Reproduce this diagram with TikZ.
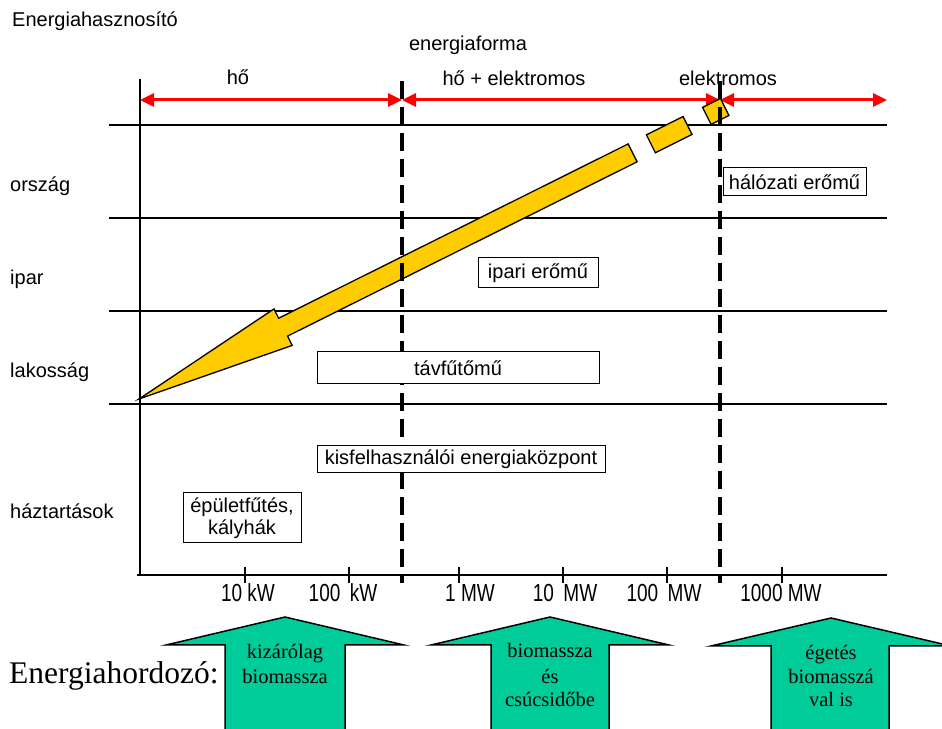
\documentclass[tikz,border=0pt]{standalone}
\usepackage{fontspec}
\usepackage{graphicx}
\setmainfont{Liberation Sans}
\newfontfamily\tms{Liberation Serif}
\usetikzlibrary{arrows.meta}
\definecolor{redline}{HTML}{FF0000}
\definecolor{yel}{HTML}{FFCC00}
\definecolor{grn}{HTML}{00CC99}
\begin{document}
\begin{tikzpicture}[x=1pt,y=1pt,
  lbl/.style={font=\fontsize{20}{24}\selectfont, inner sep=0pt},
  ticklbl/.style={font=\fontsize{19}{22}\selectfont, inner sep=0pt},
  gridline/.style={line width=2pt},
  dashv/.style={line width=4pt, dash pattern=on 18pt off 8pt, dash phase=-3pt},
  redarr/.style={draw=redline, line width=3pt, {Triangle[length=14pt,width=13pt]}-{Triangle[length=14pt,width=13pt]}},
  box/.style={draw, line width=1pt, fill=white, inner sep=0pt, font=\fontsize{20}{22}\selectfont, align=center},
  yelpart/.style={draw, fill=yel, line width=1.3pt, line join=miter},
  garrow/.style={draw, fill=grn, line width=1.5pt, line join=miter},
  gtext/.style={font=\tms\fontsize{20.5}{24}\selectfont, inner sep=0pt, anchor=base}
]
\useasboundingbox (0,0) rectangle (942,728);
\clip (0,0) rectangle (942,728);

% titles
\node[lbl, anchor=base west] (title) at (12,701) {Energiahasznosító};
\node[lbl, anchor=base] (forma) at (468,677) {energiaforma};
\node[lbl, anchor=base] (ho) at (238,643) {hő};
\node[lbl, anchor=base] (hoel) at (514,642) {hő + elektromos};
\node[lbl, anchor=base] (el) at (728,642) {elektromos};

% row labels
\node[lbl, anchor=west] (orszag) at (10,542) {ország};
\node[lbl, anchor=west] (ipar) at (10,449) {ipar};
\node[lbl, anchor=west] (lakos) at (10,356) {lakosság};
\node[lbl, anchor=west] (haz) at (10,217) {háztartások};

% horizontal grid lines
\coordinate (h1a) at (109,603); \coordinate (h1b) at (887,603);
\coordinate (h2a) at (109,510); \coordinate (h2b) at (887,510);
\coordinate (h3a) at (109,417); \coordinate (h3b) at (887,417);
\coordinate (h4a) at (109,324); \coordinate (h4b) at (887,324);
\draw[gridline] (h1a) -- (h1b);
\draw[gridline] (h2a) -- (h2b);
\draw[gridline] (h3a) -- (h3b);
\draw[gridline] (h4a) -- (h4b);

% axes
\coordinate (vtop) at (140,649); \coordinate (vbot) at (140,153);
\coordinate (axl) at (137,153); \coordinate (axr) at (887,153);
\draw[gridline] (vtop) -- (vbot);
\draw[gridline] (axl) -- (axr);
\foreach \tx in {245,349,459,563,667,782}{
  \draw[gridline] (\tx,161) -- (\tx,145);
}

% tick labels
\node[ticklbl] (t1) at (248,135) {\scalebox{1}[1.3]{10 kW}};
\node[ticklbl] (t2) at (343,135) {\scalebox{1}[1.3]{100\hspace{0.5em}kW}};
\node[ticklbl] (t3) at (470,135) {\scalebox{1}[1.3]{1 MW}};
\node[ticklbl] (t4) at (565,135) {\scalebox{1}[1.3]{10\hspace{0.5em}MW}};
\node[ticklbl] (t5) at (664,135) {\scalebox{1}[1.3]{100\hspace{0.5em}MW}};
\node[ticklbl] (t6) at (781,135) {\scalebox{1}[1.3]{1000 MW}};

% red arrows
\coordinate (r0) at (140,628); \coordinate (r1) at (402,628);
\coordinate (r2) at (720,628); \coordinate (r3) at (887,628);
\draw[redarr] (r0) -- (r1);
\draw[redarr] (r1) -- (r2);
\draw[redarr] (r2) -- (r3);

% yellow arrow
\begin{scope}[shift={(139,329)}, rotate=26.5]
\draw[yelpart] (0,0) -- (161,20.4) -- (161,10) -- (551.6,10) -- (551.6,-10) -- (161,-10) -- (161,-20.4) -- cycle;
\draw[yelpart] (572,-10) rectangle (613,10);
\draw[yelpart] (634.5,-9.5) rectangle (654.5,9.5);
\end{scope}

% dashed separators
\coordinate (d1t) at (402,650); \coordinate (d1b) at (402,145);
\coordinate (d2t) at (720,650); \coordinate (d2b) at (720,145);
\draw[dashv] (d1t) -- (d1b);
\draw[dashv] (d2t) -- (d2b);

% boxes
\node[box, minimum width=143pt, minimum height=28pt] (halo) at (794.5,546) {hálózati erőmű};
\node[box, minimum width=120pt, minimum height=30pt] (ipari) at (538,455) {ipari erőmű};
\node[box, minimum width=282pt, minimum height=32pt] (tavfu) at (458,360) {távfűtőmű};
\node[box, minimum width=288pt, minimum height=27pt] (kisf) at (461,268.5) {kisfelhasználói energiaközpont};
\node[box, minimum width=118pt, minimum height=50pt, font=\fontsize{20}{22}\selectfont] (epul) at (242,210) {épületfűtés,\\kályhák};

% energy carrier
\node[font=\tms\fontsize{31.5}{36}\selectfont, anchor=base west, inner sep=0pt] (eh) at (9,45) {Energiahordozó:};

% green arrows
\draw[garrow] (225,-5) -- (225,83) -- (166,83) -- (285,111) -- (404,83) -- (345,83) -- (345,-5) -- cycle;
\draw[garrow] (491,-5) -- (491,83) -- (431,83) -- (550,111) -- (669,83) -- (609,83) -- (609,-5) -- cycle;
\draw[garrow] (771,-5) -- (771,82) -- (711,82) -- (831,110) -- (951,82) -- (889,82) -- (889,-5) -- cycle;

\node[gtext] (a1l1) at (285,69) {kizárólag};
\node[gtext] (a1l2) at (285,45) {biomassza};
\node[gtext] (a2l1) at (550,70) {biomassza};
\node[gtext] (a2l2) at (550,45) {és};
\node[gtext] (a2l3) at (550,21) {csúcsidőbe};
\node[gtext] (a3l1) at (831,68) {égetés};
\node[gtext] (a3l2) at (831,45) {biomasszá};
\node[gtext] (a3l3) at (831,21) {val is};
\end{tikzpicture}
\end{document}
